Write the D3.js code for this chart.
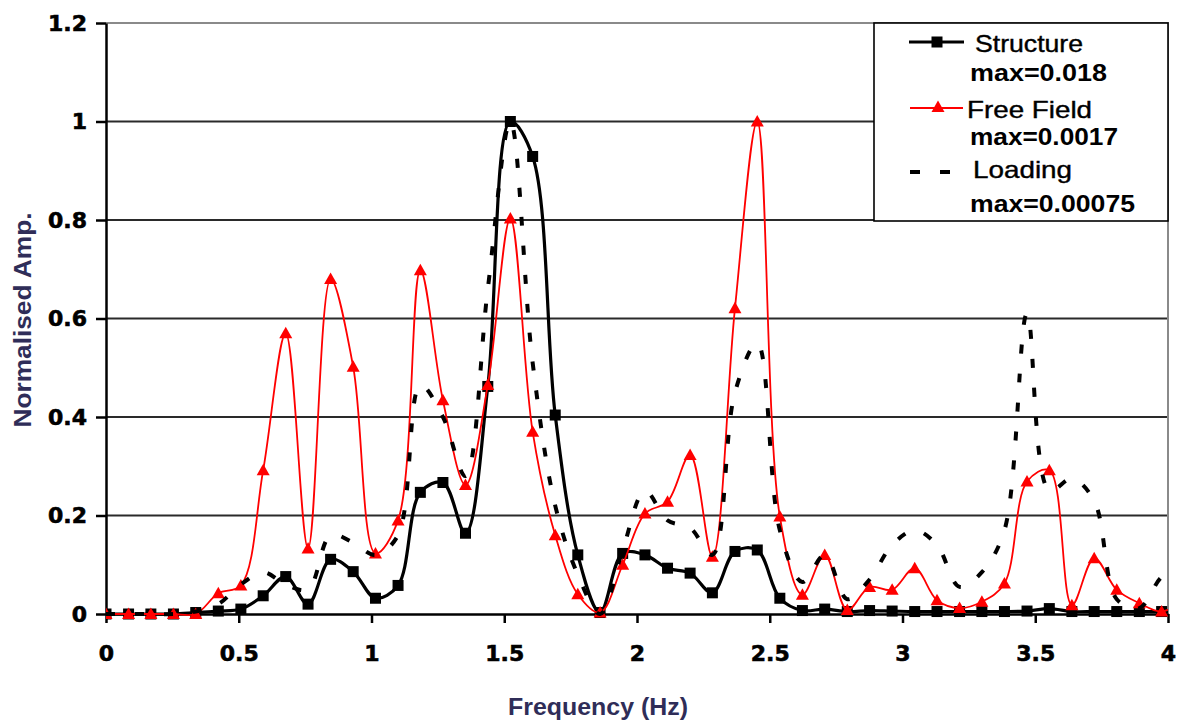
<!DOCTYPE html>
<html>
<head>
<meta charset="utf-8">
<script src="https://cdn.jsdelivr.net/npm/d3@7"></script>
<style>
    body { margin: 0; background: #fff; }
    .axis text { font-family: "DejaVu Sans", sans-serif; font-weight: bold; font-size: 22px; fill: #000; stroke: #000; stroke-width: 0.6; }
    .axis path, .axis line { stroke: #000; stroke-width: 2.5; }
    .axis-title { font-family: "Liberation Sans", Arial, sans-serif; font-weight: bold; font-size: 23px; fill: #2f2d58; }
    .legend-text { font-family: "Liberation Sans", Arial, sans-serif; font-size: 24px; fill: #000; }
</style>
</head>
<body>
<div id="chart"></div>
<script>
// frequency bins (Hz)
var freqHz = [0, 0.085, 0.169, 0.254, 0.338, 0.423, 0.508, 0.592, 0.677, 0.761,
    0.846, 0.931, 1.015, 1.100, 1.184, 1.269, 1.354, 1.438, 1.523, 1.607,
    1.692, 1.777, 1.861, 1.946, 2.030, 2.115, 2.200, 2.284, 2.369, 2.453,
    2.538, 2.623, 2.707, 2.792, 2.876, 2.961, 3.046, 3.130, 3.215, 3.299,
    3.384, 3.469, 3.553, 3.638, 3.722, 3.807, 3.892, 3.976, 4.061];

var structureAmp = [0, 0, 0, 0, 0.003, 0.006, 0.01, 0.037, 0.076, 0.02,
    0.111, 0.086, 0.032, 0.058, 0.247, 0.267, 0.164, 0.462, 1.0, 0.929,
    0.404, 0.12, 0.003, 0.123, 0.12, 0.093, 0.083, 0.043, 0.127, 0.13,
    0.032, 0.007, 0.01, 0.005, 0.007, 0.006, 0.005, 0.005, 0.005, 0.005,
    0.005, 0.006, 0.011, 0.005, 0.005, 0.005, 0.005, 0.005, 0.005];

var freeFieldAmp = [0, 0, 0, 0, 0, 0.042, 0.058, 0.292, 0.57, 0.133,
    0.68, 0.502, 0.123, 0.19, 0.698, 0.434, 0.262, 0.465, 0.803, 0.37,
    0.16, 0.04, 0.003, 0.1, 0.204, 0.228, 0.323, 0.116, 0.621, 1.0,
    0.198, 0.039, 0.12, 0.008, 0.055, 0.049, 0.093, 0.028, 0.012, 0.025,
    0.062, 0.269, 0.292, 0.018, 0.113, 0.049, 0.022, 0.005, 0.03];

var loadingAmp = [0, 0, 0, 0, 0.005, 0.02, 0.06, 0.085, 0.06, 0.05,
    0.16, 0.145, 0.12, 0.16, 0.465, 0.4, 0.28, 0.66, 1.0, 0.51,
    0.22, 0.08, 0.0, 0.13, 0.25, 0.19, 0.175, 0.12, 0.45, 0.55,
    0.17, 0.065, 0.12, 0.03, 0.07, 0.14, 0.17, 0.14, 0.055, 0.085,
    0.17, 0.61, 0.25, 0.275, 0.23, 0.03, 0.012, 0.075, 0.1];

var xTicks = [0, 0.5, 1, 1.5, 2, 2.5, 3, 3.5, 4];
var yTicks = [0, 0.2, 0.4, 0.6, 0.8, 1, 1.2];

var seriesNames = ["Structure", "Free Field", "Loading"];
var seriesMax = ["max=0.018", "max=0.0017", "max=0.00075"];

var W = 1181, H = 726;
var plot = { left: 106, right: 1168, top: 23, bottom: 614 };

var svg = d3.select("#chart").append("svg")
    .attr("width", W)
    .attr("height", H);

var x = d3.scaleLinear().domain([0, 4]).range([plot.left, plot.right]);
var y = d3.scaleLinear().domain([0, 1.2]).range([plot.bottom, plot.top]);

// gridlines
svg.append("g").selectAll("line")
    .data(yTicks.filter(function(d) { return d > 0 && d < 1.2; }))
    .enter().append("line")
    .attr("x1", plot.left).attr("x2", plot.right)
    .attr("y1", function(d) { return y(d); })
    .attr("y2", function(d) { return y(d); })
    .attr("stroke", "#2a2a2a")
    .attr("stroke-width", 2);

// plot area border (top + right, grey)
svg.append("path")
    .attr("d", "M" + plot.left + "," + y(1.2) + "H" + plot.right + "V" + plot.bottom)
    .attr("fill", "none")
    .attr("stroke", "#8a8a8a")
    .attr("stroke-width", 2);

// axes
svg.append("g")
    .attr("class", "axis")
    .attr("transform", "translate(0," + plot.bottom + ")")
    .call(d3.axisBottom(x).tickValues(xTicks).tickSize(9).tickSizeOuter(0).tickPadding(22)
        .tickFormat(function(d) { return String(d); }));

svg.append("g")
    .attr("class", "axis")
    .attr("transform", "translate(" + plot.left + ",0)")
    .call(d3.axisLeft(y).tickValues(yTicks).tickSize(10).tickSizeOuter(0).tickPadding(9)
        .tickFormat(function(d) { return String(d); }));

// axis titles
svg.append("text")
    .attr("class", "axis-title")
    .attr("x", 598).attr("y", 715)
    .attr("text-anchor", "middle")
    .attr("textLength", 180).attr("lengthAdjust", "spacingAndGlyphs")
    .text("Frequency (Hz)");

svg.append("text")
    .attr("class", "axis-title")
    .attr("transform", "translate(31,320) rotate(-90)")
    .attr("text-anchor", "middle")
    .attr("textLength", 215).attr("lengthAdjust", "spacingAndGlyphs")
    .text("Normalised Amp.");

// clip lines to the plot area horizontally
svg.append("clipPath").attr("id", "plot-clip")
    .append("rect")
    .attr("x", plot.left).attr("y", 0)
    .attr("width", plot.right - plot.left).attr("height", plot.bottom + 20);

var lineGen = function(vals) {
    return d3.line()
        .x(function(d, i) { return x(freqHz[i]); })
        .y(function(d) { return y(d); })
        .curve(d3.curveCatmullRom.alpha(0.5))(vals);
};

var triPath = "M0,-6.5L6.5,5L-6.5,5Z";

var g = svg.append("g").attr("clip-path", "url(#plot-clip)");

// Structure
g.append("path")
    .attr("d", lineGen(structureAmp))
    .attr("fill", "none")
    .attr("stroke", "#000")
    .attr("stroke-width", 3.2);

g.selectAll(".sq")
    .data(structureAmp)
    .enter().append("rect")
    .attr("class", "sq")
    .attr("x", function(d, i) { return x(freqHz[i]) - 5.5; })
    .attr("y", function(d) { return y(d) - 5.5; })
    .attr("width", 11).attr("height", 11)
    .attr("fill", "#000");

// Free Field
g.append("path")
    .attr("d", lineGen(freeFieldAmp))
    .attr("fill", "none")
    .attr("stroke", "#ff0000")
    .attr("stroke-width", 1.8);

g.selectAll(".tri")
    .data(freeFieldAmp)
    .enter().append("path")
    .attr("class", "tri")
    .attr("d", triPath)
    .attr("transform", function(d, i) { return "translate(" + x(freqHz[i]) + "," + y(d) + ")"; })
    .attr("fill", "#ff0000");

// Loading (dashed, no markers)
g.append("path")
    .attr("d", lineGen(loadingAmp))
    .attr("fill", "none")
    .attr("stroke", "#000")
    .attr("stroke-width", 4)
    .attr("stroke-dasharray", "9,20");

// legend
var legend = svg.append("g");

legend.append("rect")
    .attr("x", 874).attr("y", 23)
    .attr("width", 294).attr("height", 198)
    .attr("fill", "#fff")
    .attr("stroke", "#000")
    .attr("stroke-width", 1.6);

legend.append("line")
    .attr("x1", 909).attr("x2", 964).attr("y1", 42).attr("y2", 42)
    .attr("stroke", "#000").attr("stroke-width", 3.2);
legend.append("rect")
    .attr("x", 937 - 5.5).attr("y", 42 - 5.5)
    .attr("width", 11).attr("height", 11)
    .attr("fill", "#000");

legend.append("line")
    .attr("x1", 910).attr("x2", 963).attr("y1", 108).attr("y2", 108)
    .attr("stroke", "#ff0000").attr("stroke-width", 1.8);
legend.append("path")
    .attr("d", triPath)
    .attr("transform", "translate(938,107)")
    .attr("fill", "#ff0000");

legend.append("line")
    .attr("x1", 910).attr("x2", 951).attr("y1", 172).attr("y2", 172)
    .attr("stroke", "#000").attr("stroke-width", 4)
    .attr("stroke-dasharray", "10,20");

var nameRows = [
    { x: 975, y: 52, w: 108 },
    { x: 967, y: 118, w: 125 },
    { x: 973, y: 178, w: 99 }
];
var maxRows = [
    { x: 970, y: 81, w: 137 },
    { x: 970, y: 145, w: 148 },
    { x: 970, y: 212, w: 165 }
];

legend.selectAll(".lg-name")
    .data(seriesNames)
    .enter().append("text")
    .attr("class", "legend-text lg-name")
    .attr("x", function(d, i) { return nameRows[i].x; })
    .attr("y", function(d, i) { return nameRows[i].y; })
    .attr("textLength", function(d, i) { return nameRows[i].w; })
    .attr("lengthAdjust", "spacingAndGlyphs")
    .style("stroke", "#000").style("stroke-width", 0.4)
    .text(function(d) { return d; });

legend.selectAll(".lg-max")
    .data(seriesMax)
    .enter().append("text")
    .attr("class", "legend-text lg-max")
    .attr("x", function(d, i) { return maxRows[i].x; })
    .attr("y", function(d, i) { return maxRows[i].y; })
    .attr("textLength", function(d, i) { return maxRows[i].w; })
    .attr("lengthAdjust", "spacingAndGlyphs")
    .style("font-weight", "bold")
    .text(function(d) { return d; });
</script>
</body>
</html>
